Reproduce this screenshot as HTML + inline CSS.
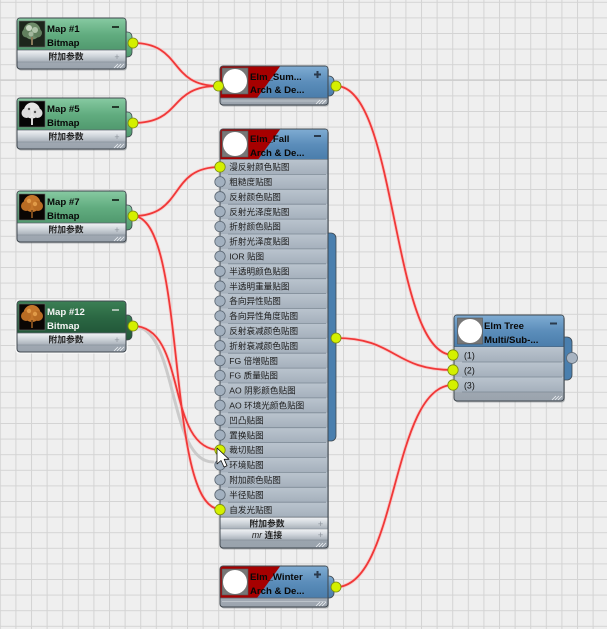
<!DOCTYPE html>
<html><head><meta charset="utf-8">
<style>
html,body{margin:0;padding:0;background:#efefef;overflow:hidden}
svg{display:block}
text{font-family:"Liberation Sans","Noto Sans CJK SC",sans-serif}
.h{font-size:9.6px;font-weight:bold;fill:#080808}
.r{font-size:8.6px;fill:#1c1c1c}
.b{font-size:8.8px;font-weight:bold;fill:#222;text-anchor:middle}
.p{font-size:9px;fill:#8d949c;text-anchor:middle}
.n{font-size:8.8px;fill:#111}
</style></head><body>
<svg width="607" height="629" viewBox="0 0 607 629" xmlns="http://www.w3.org/2000/svg">
<defs>
<pattern id="grid" x="-0.2" y="1.8" width="15.6" height="15.6" patternUnits="userSpaceOnUse">
<rect width="15.6" height="15.6" fill="#efefef"/>
<path d="M0.5 0V15.6M0 0.5H15.6" stroke="#d4d4d4" stroke-width="1"/>
</pattern>
<linearGradient id="gG" x1="0" y1="0" x2="0" y2="1"><stop offset="0" stop-color="#86c9a1"/><stop offset=".5" stop-color="#62ad80"/><stop offset="1" stop-color="#50996e"/></linearGradient>
<linearGradient id="gD" x1="0" y1="0" x2="0" y2="1"><stop offset="0" stop-color="#3b7f54"/><stop offset=".5" stop-color="#2b6843"/><stop offset="1" stop-color="#225739"/></linearGradient>
<linearGradient id="gB" x1="0" y1="0" x2="0" y2="1"><stop offset="0" stop-color="#7eabd2"/><stop offset=".5" stop-color="#5b8dba"/><stop offset="1" stop-color="#4a7dab"/></linearGradient>
<linearGradient id="gBar" x1="0" y1="0" x2="0" y2="1"><stop offset="0" stop-color="#f2f4f6"/><stop offset=".5" stop-color="#cfd5db"/><stop offset="1" stop-color="#a7afb8"/></linearGradient>
<linearGradient id="gRow" x1="0" y1="0" x2="0" y2="1"><stop offset="0" stop-color="#bac4ce"/><stop offset="1" stop-color="#a5b0bc"/></linearGradient>
<linearGradient id="gFoot" x1="0" y1="0" x2="0" y2="1"><stop offset="0" stop-color="#c6ccd3"/><stop offset="1" stop-color="#9aa3ad"/></linearGradient>
</defs>

<rect width="607" height="629" fill="url(#grid)"/>
<rect x="0" y="79.3" width="607" height="1.6" fill="#cecece"/>

<!-- wires -->
<g fill="none" stroke-linecap="round">
<path d="M133 326C178 326 168 462 213 462" stroke="#c4c4c4" stroke-width="3" opacity=".85"/>
<g stroke="#ffb0b0" stroke-width="3.6" opacity=".5">
<path d="M133 43C183 43 168 86 218 86"/>
<path d="M133 123C183 123 168 86 218 86"/>
<path d="M133 216C185 216 168 167 220 167"/>
<path d="M133 216C188 216 165 509 220 509"/>
<path d="M133 326C188 326 165 450 220 450"/>
<path d="M336 86C398 86 391 355 453 355"/>
<path d="M336 338C396 338 393 370 453 370"/>
<path d="M336 587C398 587 391 385 453 385"/>
</g>
<g stroke="#f03838" stroke-width="1.8">
<path d="M133 43C183 43 168 86 218 86"/>
<path d="M133 123C183 123 168 86 218 86"/>
<path d="M133 216C185 216 168 167 220 167"/>
<path d="M133 216C188 216 165 509 220 509"/>
<path d="M133 326C188 326 165 450 220 450"/>
<path d="M336 86C398 86 391 355 453 355"/>
<path d="M336 338C396 338 393 370 453 370"/>
<path d="M336 587C398 587 391 385 453 385"/>
</g>
</g>

<!-- Map #1 -->
<g transform="translate(17,18)">
<rect x="1" y="1.5" width="109" height="51" rx="3" fill="#6b7075" opacity=".45"/>
<rect x="100" y="14" width="15" height="25" rx="4.5" fill="url(#gG)" stroke="#3f474e" stroke-width=".8"/>
<rect x="0" y="0" width="109" height="51" rx="3" fill="url(#gFoot)" stroke="#3f474e"/>
<path d="M0.5 32V3Q0.5 0.5 3 0.5H106Q108.5 0.5 108.5 3V32Z" fill="url(#gG)"/>
<rect x="2" y="3" width="26" height="26" fill="#1d261c" stroke="#6a6a6a" stroke-width=".6"/>
<circle cx="15" cy="13" r="8.5" fill="#6f8c6a"/><circle cx="9.5" cy="15" r="4.5" fill="#62805e"/><circle cx="20.5" cy="15" r="4.5" fill="#62805e"/>
<circle cx="12" cy="10" r="3" fill="#c8d6c2"/><circle cx="18" cy="12" r="3" fill="#b0c4aa"/><circle cx="14" cy="16" r="2.5" fill="#a4b89e"/>
<rect x="14" y="19" width="2" height="8" fill="#8b7b5b"/>
<text class="h" x="30" y="14">Map #1</text>
<text class="h" x="30" y="28">Bitmap</text>
<rect x="95" y="8" width="7" height="2" fill="#233a2c"/>
<rect x="0.5" y="32" width="108" height="12" fill="url(#gBar)"/>
<line x1="0.5" y1="32" x2="108.5" y2="32" stroke="#5d666f" stroke-width=".8"/>
<text class="b" x="49" y="41.6">附加参数</text>
<text class="p" x="100" y="42">+</text>
<line x1="0.5" y1="44" x2="108.5" y2="44" stroke="#7d868f" stroke-width=".6"/>
<path d="M97 50L101 46M100 50L104 46M103 50L107 46" stroke="#eef1f4" stroke-width=".8"/>
<circle cx="116" cy="25" r="5" fill="#d4f000" stroke="#7a8a12" stroke-width=".8"/>
</g>

<!-- Map #5 -->
<g transform="translate(17,98)">
<rect x="1" y="1.5" width="109" height="51" rx="3" fill="#6b7075" opacity=".45"/>
<rect x="100" y="14" width="15" height="25" rx="4.5" fill="url(#gG)" stroke="#3f474e" stroke-width=".8"/>
<rect x="0" y="0" width="109" height="51" rx="3" fill="url(#gFoot)" stroke="#3f474e"/>
<path d="M0.5 32V3Q0.5 0.5 3 0.5H106Q108.5 0.5 108.5 3V32Z" fill="url(#gG)"/>
<rect x="2" y="3" width="26" height="26" fill="#060606" stroke="#6a6a6a" stroke-width=".6"/>
<circle cx="15" cy="12.5" r="8" fill="#e6e6e6"/><circle cx="9.5" cy="15" r="5" fill="#dcdcdc"/><circle cx="20.5" cy="15" r="5" fill="#dcdcdc"/>
<circle cx="12" cy="11" r="1.2" fill="#555"/><circle cx="18" cy="14" r="1.2" fill="#555"/>
<rect x="14" y="19" width="2" height="8" fill="#d8d8d8"/>
<text class="h" x="30" y="14">Map #5</text>
<text class="h" x="30" y="28">Bitmap</text>
<rect x="95" y="8" width="7" height="2" fill="#233a2c"/>
<rect x="0.5" y="32" width="108" height="12" fill="url(#gBar)"/>
<line x1="0.5" y1="32" x2="108.5" y2="32" stroke="#5d666f" stroke-width=".8"/>
<text class="b" x="49" y="41.6">附加参数</text>
<text class="p" x="100" y="42">+</text>
<line x1="0.5" y1="44" x2="108.5" y2="44" stroke="#7d868f" stroke-width=".6"/>
<path d="M97 50L101 46M100 50L104 46M103 50L107 46" stroke="#eef1f4" stroke-width=".8"/>
<circle cx="116" cy="25" r="5" fill="#d4f000" stroke="#7a8a12" stroke-width=".8"/>
</g>

<!-- Map #7 -->
<g transform="translate(17,191)">
<rect x="1" y="1.5" width="109" height="51" rx="3" fill="#6b7075" opacity=".45"/>
<rect x="100" y="14" width="15" height="25" rx="4.5" fill="url(#gG)" stroke="#3f474e" stroke-width=".8"/>
<rect x="0" y="0" width="109" height="51" rx="3" fill="url(#gFoot)" stroke="#3f474e"/>
<path d="M0.5 32V3Q0.5 0.5 3 0.5H106Q108.5 0.5 108.5 3V32Z" fill="url(#gG)"/>
<rect x="2" y="3" width="26" height="26" fill="#0a0604" stroke="#6a6a6a" stroke-width=".6"/>
<circle cx="15" cy="12.5" r="8.5" fill="#c4762a"/><circle cx="9" cy="15" r="5" fill="#b86c24"/><circle cx="21" cy="15" r="5" fill="#b86c24"/>
<circle cx="12" cy="10" r="2.2" fill="#e09a48"/><circle cx="18" cy="13" r="2.2" fill="#e09a48"/>
<rect x="14" y="19" width="2" height="8" fill="#7a4a1c"/>
<text class="h" x="30" y="14">Map #7</text>
<text class="h" x="30" y="28">Bitmap</text>
<rect x="95" y="8" width="7" height="2" fill="#233a2c"/>
<rect x="0.5" y="32" width="108" height="12" fill="url(#gBar)"/>
<line x1="0.5" y1="32" x2="108.5" y2="32" stroke="#5d666f" stroke-width=".8"/>
<text class="b" x="49" y="41.6">附加参数</text>
<text class="p" x="100" y="42">+</text>
<line x1="0.5" y1="44" x2="108.5" y2="44" stroke="#7d868f" stroke-width=".6"/>
<path d="M97 50L101 46M100 50L104 46M103 50L107 46" stroke="#eef1f4" stroke-width=".8"/>
<circle cx="116" cy="25" r="5" fill="#d4f000" stroke="#7a8a12" stroke-width=".8"/>
</g>

<!-- Map #12 (selected) -->
<g transform="translate(17,301)">
<rect x="-1.5" y="-1.5" width="112" height="54" rx="4" fill="#ffffff"/>
<rect x="100" y="14" width="15" height="25" rx="4.5" fill="url(#gD)" stroke="#3f474e" stroke-width=".8"/>
<rect x="0" y="0" width="109" height="51" rx="3" fill="url(#gFoot)" stroke="#3f474e"/>
<path d="M0.5 32V3Q0.5 0.5 3 0.5H106Q108.5 0.5 108.5 3V32Z" fill="url(#gD)"/>
<rect x="2" y="3" width="26" height="26" fill="#0a0604" stroke="#6a6a6a" stroke-width=".6"/>
<circle cx="15" cy="12.5" r="8.5" fill="#c4762a"/><circle cx="9" cy="15" r="5" fill="#b86c24"/><circle cx="21" cy="15" r="5" fill="#b86c24"/>
<circle cx="12" cy="10" r="2.2" fill="#e09a48"/><circle cx="18" cy="13" r="2.2" fill="#e09a48"/>
<rect x="14" y="19" width="2" height="8" fill="#7a4a1c"/>
<text class="h" x="30" y="14" style="fill:#f4f4f4">Map #12</text>
<text class="h" x="30" y="28" style="fill:#f4f4f4">Bitmap</text>
<rect x="95" y="8" width="7" height="2" fill="#a8c0b0"/>
<rect x="0.5" y="32" width="108" height="12" fill="url(#gBar)"/>
<line x1="0.5" y1="32" x2="108.5" y2="32" stroke="#5d666f" stroke-width=".8"/>
<text class="b" x="49" y="41.6">附加参数</text>
<text class="p" x="100" y="42">+</text>
<line x1="0.5" y1="44" x2="108.5" y2="44" stroke="#7d868f" stroke-width=".6"/>
<path d="M97 50L101 46M100 50L104 46M103 50L107 46" stroke="#eef1f4" stroke-width=".8"/>
<circle cx="116" cy="25" r="5" fill="#d4f000" stroke="#7a8a12" stroke-width=".8"/>
</g>

<!-- Elm_Summer -->
<g transform="translate(220,66)">
<rect x="1" y="1.5" width="108" height="39" rx="3" fill="#6b7075" opacity=".45"/>
<rect x="100" y="10" width="14" height="20" rx="5" fill="url(#gB)" stroke="#3f474e" stroke-width=".8"/>
<rect x="0" y="0" width="108" height="39" rx="3" fill="url(#gFoot)" stroke="#3f474e"/>
<path d="M0.5 32V3Q0.5 0.5 3 0.5H105Q107.5 0.5 107.5 3V32Z" fill="url(#gB)"/>
<path d="M0.5 32V3Q0.5 0.5 3 0.5H60L37 32Z" fill="#a60000"/>
<rect x="2" y="2" width="26" height="26" fill="#777" stroke="#555" stroke-width=".6"/>
<circle cx="15" cy="15" r="12" fill="#fff"/>
<text class="h" x="30" y="14">Elm_Sum...</text>
<text class="h" x="30" y="27">Arch &amp; De...</text>
<path d="M94 8.5H101M97.5 5V12" stroke="#2a3a4c" stroke-width="2"/>
<line x1="0.5" y1="32" x2="107.5" y2="32" stroke="#5d666f" stroke-width=".8"/>
<line x1="2" y1="35" x2="106" y2="35" stroke="#d8dde2" stroke-width=".6"/>
<path d="M96 38L100 34M99 38L103 34M102 38L106 34" stroke="#eef1f4" stroke-width=".8"/>
<circle cx="-1.5" cy="20" r="5" fill="#d4f000" stroke="#7a8a12" stroke-width=".8"/>
<circle cx="116" cy="20" r="5" fill="#d4f000" stroke="#7a8a12" stroke-width=".8"/>
</g>

<!-- Elm_Fall -->
<g transform="translate(220,129)">
<rect x="1" y="1.5" width="108" height="419" rx="3" fill="#6b7075" opacity=".45"/>
<rect x="100" y="104" width="16" height="208" rx="5" fill="#4a7fae" stroke="#3f474e" stroke-width=".8"/>
<rect x="0" y="0" width="108" height="419" rx="3" fill="url(#gFoot)" stroke="#3f474e"/>
<path d="M0.5 30.5V3Q0.5 0.5 3 0.5H105Q107.5 0.5 107.5 3V30.5Z" fill="url(#gB)"/>
<path d="M0.5 30.5V3Q0.5 0.5 3 0.5H60L38 30.5Z" fill="#a60000"/>
<rect x="2" y="2" width="26" height="26" fill="#777" stroke="#555" stroke-width=".6"/>
<circle cx="15" cy="15" r="12" fill="#fff"/>
<text class="h" x="30" y="13">Elm_Fall</text>
<text class="h" x="30" y="27">Arch &amp; De...</text>
<rect x="94" y="6" width="7" height="2" fill="#2a3a4c"/>
<line x1="0.5" y1="30.5" x2="107.5" y2="30.5" stroke="#4d5660" stroke-width=".8"/>
<g>
<rect x="0.5" y="30.5" width="107" height="14.9" fill="url(#gRow)"/>
<rect x="0.5" y="45.4" width="107" height="14.9" fill="url(#gRow)"/>
<rect x="0.5" y="60.3" width="107" height="14.9" fill="url(#gRow)"/>
<rect x="0.5" y="75.2" width="107" height="14.9" fill="url(#gRow)"/>
<rect x="0.5" y="90.1" width="107" height="14.9" fill="url(#gRow)"/>
<rect x="0.5" y="105.0" width="107" height="14.9" fill="url(#gRow)"/>
<rect x="0.5" y="119.9" width="107" height="14.9" fill="url(#gRow)"/>
<rect x="0.5" y="134.8" width="107" height="14.9" fill="url(#gRow)"/>
<rect x="0.5" y="149.7" width="107" height="14.9" fill="url(#gRow)"/>
<rect x="0.5" y="164.6" width="107" height="14.9" fill="url(#gRow)"/>
<rect x="0.5" y="179.5" width="107" height="14.9" fill="url(#gRow)"/>
<rect x="0.5" y="194.4" width="107" height="14.9" fill="url(#gRow)"/>
<rect x="0.5" y="209.3" width="107" height="14.9" fill="url(#gRow)"/>
<rect x="0.5" y="224.2" width="107" height="14.9" fill="url(#gRow)"/>
<rect x="0.5" y="239.1" width="107" height="14.9" fill="url(#gRow)"/>
<rect x="0.5" y="254.0" width="107" height="14.9" fill="url(#gRow)"/>
<rect x="0.5" y="268.9" width="107" height="14.9" fill="url(#gRow)"/>
<rect x="0.5" y="283.8" width="107" height="14.9" fill="url(#gRow)"/>
<rect x="0.5" y="298.7" width="107" height="14.9" fill="url(#gRow)"/>
<rect x="0.5" y="313.6" width="107" height="14.9" fill="url(#gRow)"/>
<rect x="0.5" y="328.5" width="107" height="14.9" fill="url(#gRow)"/>
<rect x="0.5" y="343.4" width="107" height="14.9" fill="url(#gRow)"/>
<rect x="0.5" y="358.3" width="107" height="14.9" fill="url(#gRow)"/>
<rect x="0.5" y="373.2" width="107" height="14.9" fill="url(#gRow)"/>
</g>
<path stroke="#7d8995" stroke-width=".8" d="M8 45.4H106M8 60.3H106M8 75.2H106M8 90.1H106M8 105H106M8 119.9H106M8 134.8H106M8 149.7H106M8 164.6H106M8 179.5H106M8 194.4H106M8 209.3H106M8 224.2H106M8 239.1H106M8 254H106M8 268.9H106M8 283.8H106M8 298.7H106M8 313.6H106M8 328.5H106M8 343.4H106M8 358.3H106M8 373.2H106"/>
<g>
<text class="r" x="9.3" y="41.1">漫反射颜色贴图</text>
<text class="r" x="9.3" y="56.0">粗糙度贴图</text>
<text class="r" x="9.3" y="70.9">反射颜色贴图</text>
<text class="r" x="9.3" y="85.8">反射光泽度贴图</text>
<text class="r" x="9.3" y="100.7">折射颜色贴图</text>
<text class="r" x="9.3" y="115.6">折射光泽度贴图</text>
<text class="r" x="9.3" y="130.5">IOR 贴图</text>
<text class="r" x="9.3" y="145.4">半透明颜色贴图</text>
<text class="r" x="9.3" y="160.3">半透明重量贴图</text>
<text class="r" x="9.3" y="175.2">各向异性贴图</text>
<text class="r" x="9.3" y="190.1">各向异性角度贴图</text>
<text class="r" x="9.3" y="205.0">反射衰减颜色贴图</text>
<text class="r" x="9.3" y="219.9">折射衰减颜色贴图</text>
<text class="r" x="9.3" y="234.8">FG 倍增贴图</text>
<text class="r" x="9.3" y="249.7">FG 质量贴图</text>
<text class="r" x="9.3" y="264.6">AO 阴影颜色贴图</text>
<text class="r" x="9.3" y="279.5">AO 环境光颜色贴图</text>
<text class="r" x="9.3" y="294.4">凹凸贴图</text>
<text class="r" x="9.3" y="309.3">置换贴图</text>
<text class="r" x="9.3" y="324.2">裁切贴图</text>
<text class="r" x="9.3" y="339.1">环境贴图</text>
<text class="r" x="9.3" y="354.0">附加颜色贴图</text>
<text class="r" x="9.3" y="368.9">半径贴图</text>
<text class="r" x="9.3" y="383.8">自发光贴图</text>
</g>
<rect x="0.5" y="388.1" width="107" height="11.9" fill="url(#gBar)"/>
<line x1="0.5" y1="388.1" x2="107.5" y2="388.1" stroke="#5d666f" stroke-width=".8"/>
<text class="b" x="47" y="397.4">附加参数</text>
<text class="p" x="100.5" y="397.8">+</text>
<rect x="0.5" y="400" width="107" height="11" fill="url(#gBar)"/>
<line x1="0.5" y1="400" x2="107.5" y2="400" stroke="#7d868f" stroke-width=".6"/>
<text class="b" x="47" y="408.8"><tspan font-style="italic" font-weight="normal">mr</tspan> 连接</text>
<text class="p" x="100.5" y="409">+</text>
<line x1="0.5" y1="411" x2="107.5" y2="411" stroke="#7d868f" stroke-width=".6"/>
<path d="M96 418L100 414M99 418L103 414M102 418L106 414" stroke="#eef1f4" stroke-width=".8"/>
<g fill="#a2b0bf" stroke="#5a6672" stroke-width=".8">
<circle cx="0" cy="52.85" r="5.2"/>
<circle cx="0" cy="67.75" r="5.2"/>
<circle cx="0" cy="82.65" r="5.2"/>
<circle cx="0" cy="97.55" r="5.2"/>
<circle cx="0" cy="112.45" r="5.2"/>
<circle cx="0" cy="127.35" r="5.2"/>
<circle cx="0" cy="142.25" r="5.2"/>
<circle cx="0" cy="157.15" r="5.2"/>
<circle cx="0" cy="172.05" r="5.2"/>
<circle cx="0" cy="186.95" r="5.2"/>
<circle cx="0" cy="201.85" r="5.2"/>
<circle cx="0" cy="216.75" r="5.2"/>
<circle cx="0" cy="231.65" r="5.2"/>
<circle cx="0" cy="246.55" r="5.2"/>
<circle cx="0" cy="261.45" r="5.2"/>
<circle cx="0" cy="276.35" r="5.2"/>
<circle cx="0" cy="291.25" r="5.2"/>
<circle cx="0" cy="306.15" r="5.2"/>
<circle cx="0" cy="335.95" r="5.2"/>
<circle cx="0" cy="350.85" r="5.2"/>
<circle cx="0" cy="365.75" r="5.2"/>
</g>
<g fill="#d4f000" stroke="#7a8a12" stroke-width=".8">
<circle cx="0" cy="37.95" r="5.2"/>
<circle cx="0" cy="321.05" r="5.2"/>
<circle cx="0" cy="380.65" r="5.2"/>
<circle cx="116" cy="209" r="5"/>
</g>
</g>

<!-- Elm_Winter -->
<g transform="translate(220,566)">
<rect x="1" y="1.5" width="108" height="41" rx="3" fill="#6b7075" opacity=".45"/>
<rect x="100" y="10" width="14" height="22" rx="5" fill="url(#gB)" stroke="#3f474e" stroke-width=".8"/>
<rect x="0" y="0" width="108" height="41" rx="3" fill="url(#gFoot)" stroke="#3f474e"/>
<path d="M0.5 32V3Q0.5 0.5 3 0.5H105Q107.5 0.5 107.5 3V32Z" fill="url(#gB)"/>
<path d="M0.5 32V3Q0.5 0.5 3 0.5H60L37 32Z" fill="#a60000"/>
<rect x="2" y="3" width="26" height="26" fill="#777" stroke="#555" stroke-width=".6"/>
<circle cx="15" cy="16" r="12" fill="#fff"/>
<text class="h" x="30" y="14">Elm_Winter</text>
<text class="h" x="30" y="28">Arch &amp; De...</text>
<path d="M94 8.5H101M97.5 5V12" stroke="#2a3a4c" stroke-width="2"/>
<line x1="0.5" y1="32" x2="107.5" y2="32" stroke="#5d666f" stroke-width=".8"/>
<line x1="2" y1="35.5" x2="106" y2="35.5" stroke="#d8dde2" stroke-width=".6"/>
<path d="M96 40L100 36M99 40L103 36M102 40L106 36" stroke="#eef1f4" stroke-width=".8"/>
<circle cx="116" cy="21" r="5" fill="#d4f000" stroke="#7a8a12" stroke-width=".8"/>
</g>

<!-- Elm Tree -->
<g transform="translate(454,315)">
<rect x="1" y="1.5" width="110" height="86" rx="3" fill="#6b7075" opacity=".45"/>
<rect x="104" y="22" width="14" height="43" rx="5" fill="#4a7fae" stroke="#3f474e" stroke-width=".8"/>
<rect x="0" y="0" width="110" height="86" rx="3" fill="url(#gFoot)" stroke="#3f474e"/>
<path d="M0.5 32V3Q0.5 0.5 3 0.5H107Q109.5 0.5 109.5 3V32Z" fill="url(#gB)"/>
<rect x="3.5" y="3" width="25" height="26" fill="#777" stroke="#555" stroke-width=".6"/>
<circle cx="16" cy="16" r="12" fill="#fff"/>
<text class="h" x="30" y="14">Elm Tree</text>
<text class="h" x="30" y="28">Multi/Sub-...</text>
<rect x="96" y="7.5" width="7" height="2" fill="#2a3a4c"/>
<line x1="0.5" y1="32" x2="109.5" y2="32" stroke="#4d5660" stroke-width=".8"/>
<rect x="0.5" y="32" width="109" height="15" fill="url(#gRow)"/>
<rect x="0.5" y="47" width="109" height="15" fill="url(#gRow)"/>
<rect x="0.5" y="62" width="109" height="15" fill="url(#gRow)"/>
<path stroke="#7d8995" stroke-width=".8" d="M8 47H108M8 62H108M8 77H108"/>
<text class="n" x="10" y="43.3">(1)</text>
<text class="n" x="10" y="58.3">(2)</text>
<text class="n" x="10" y="73.3">(3)</text>
<path d="M98 85L102 81M101 85L105 81M104 85L108 81" stroke="#eef1f4" stroke-width=".8"/>
<g fill="#d4f000" stroke="#7a8a12" stroke-width=".8">
<circle cx="-1" cy="40" r="5.2"/>
<circle cx="-1" cy="55" r="5.2"/>
<circle cx="-1" cy="70" r="5.2"/>
</g>
<circle cx="118" cy="43" r="5.5" fill="#a8b4c2" stroke="#5c6874" stroke-width=".8"/>
</g>

<!-- cursor -->
<path d="M217 448L217 464L221 460.5L224 467L227 465.7L224.2 459.3L229 459.3Z" fill="#fff" stroke="#111" stroke-width=".8" stroke-linejoin="round"/>
</svg>
</body></html>
